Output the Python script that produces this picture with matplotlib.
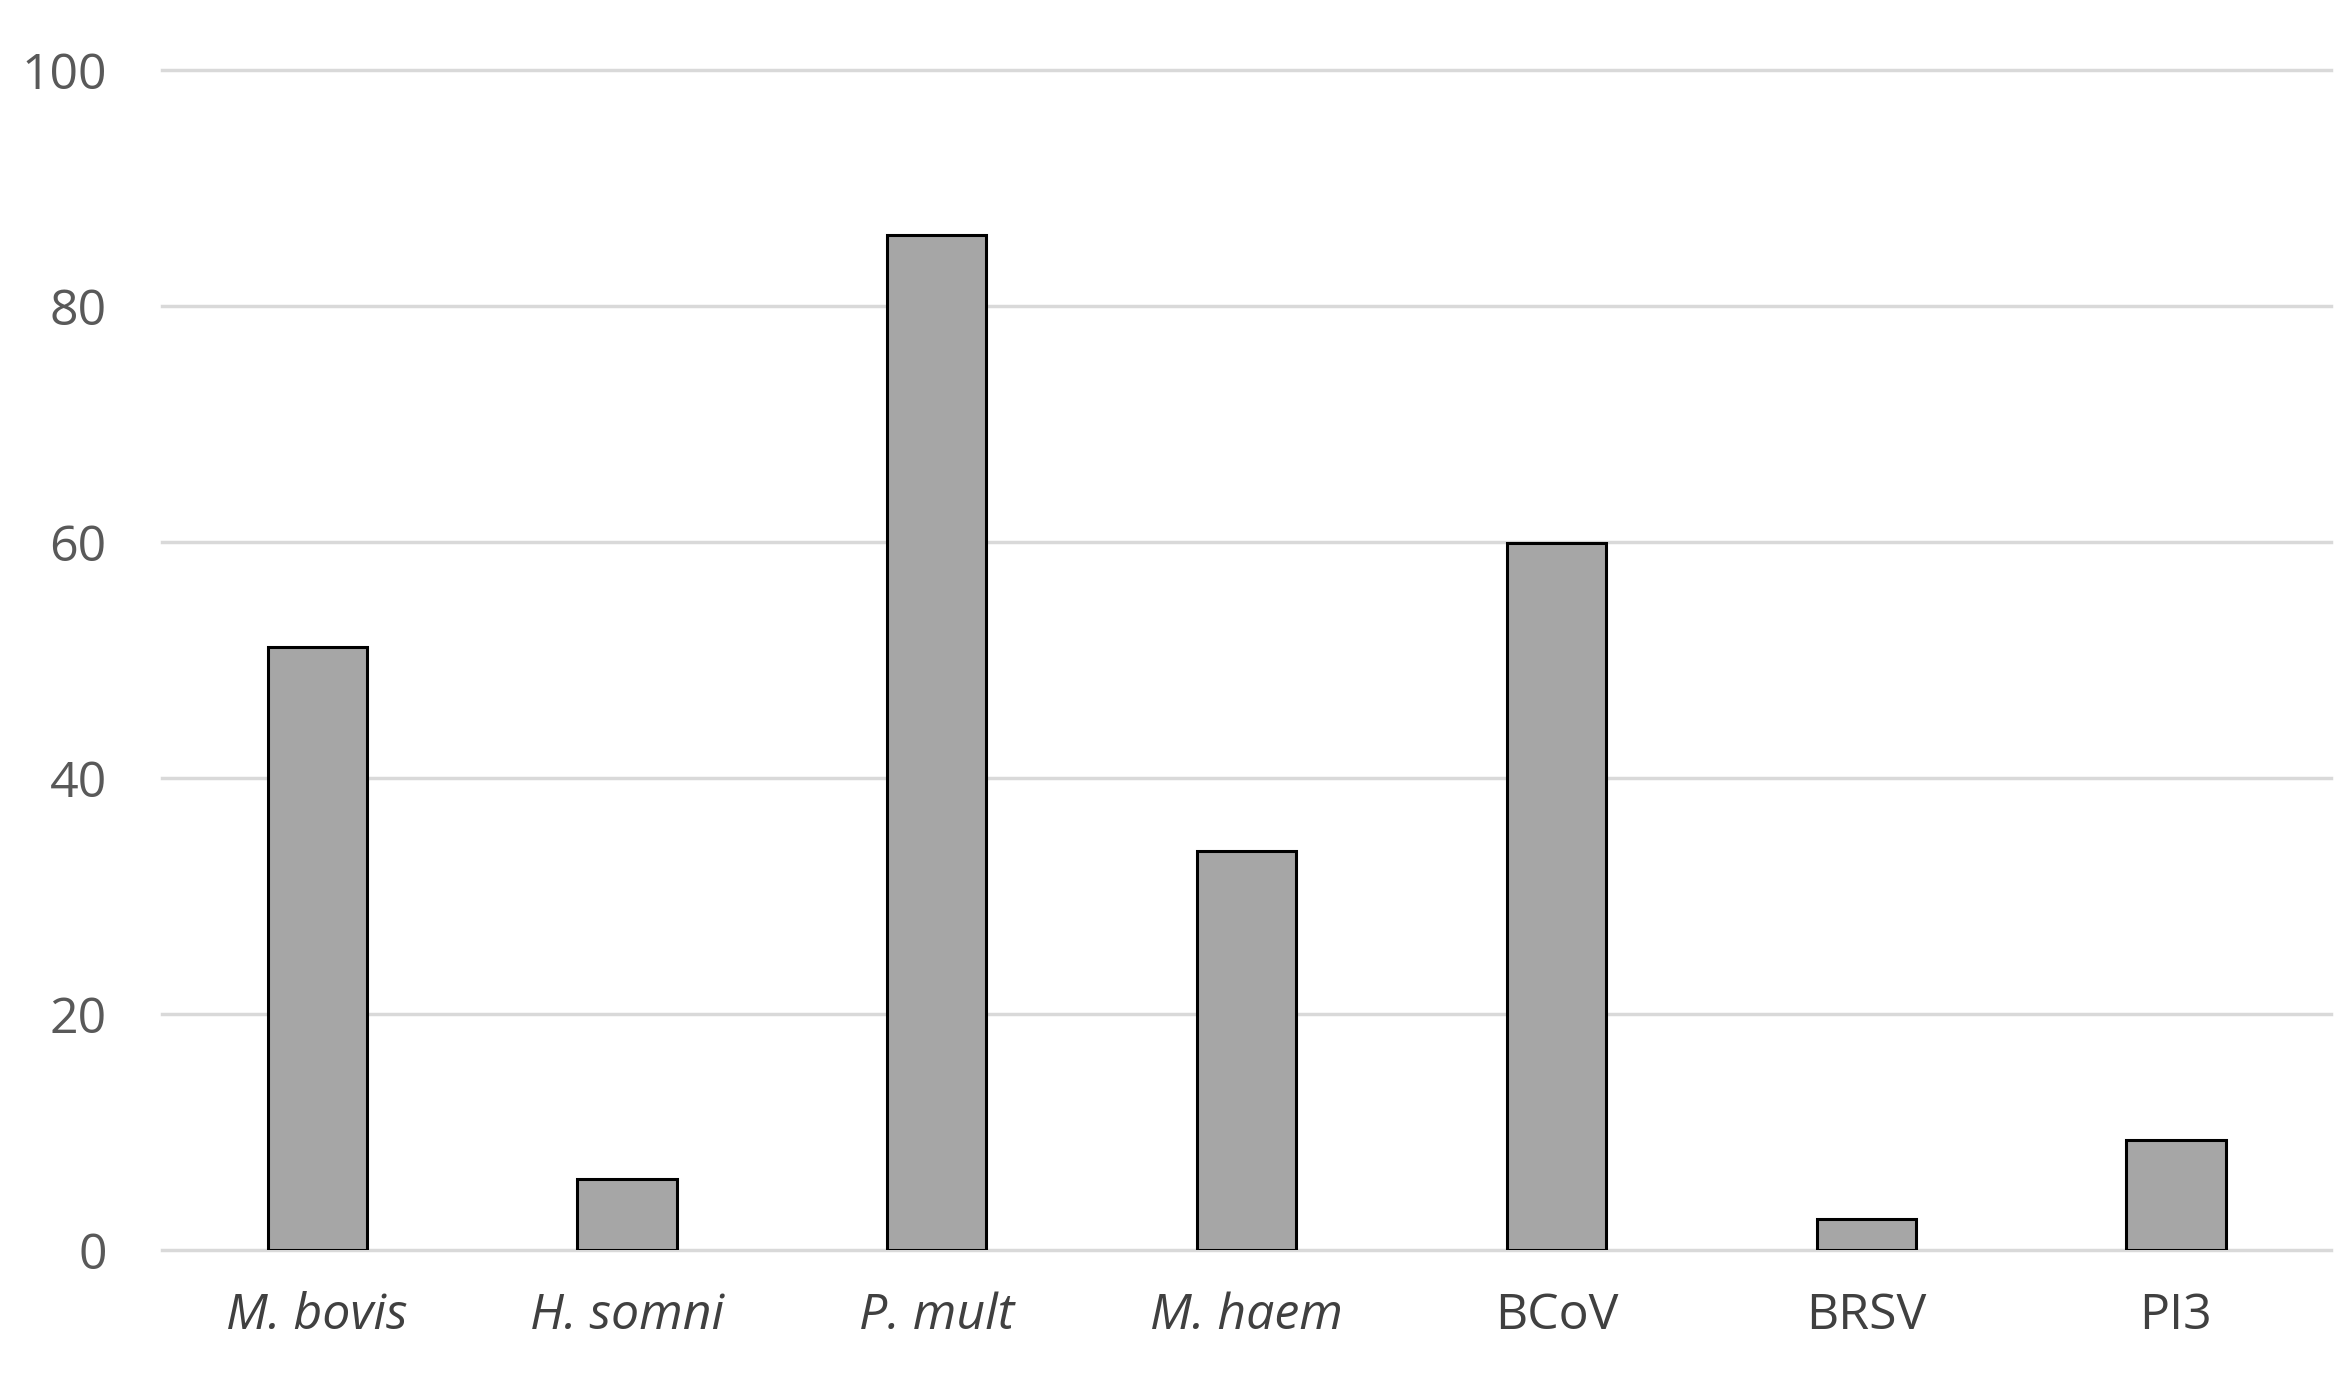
import matplotlib
matplotlib.use("Agg")
import matplotlib.pyplot as plt

categories = ["M. bovis", "H. somni", "P. mult", "M. haem", "BCoV", "BRSV", "PI3"]
italic = [True, True, True, True, False, False, False]
values = [51.1, 6.0, 86.0, 33.8, 59.9, 2.6, 9.3]
yticks = [0, 20, 40, 60, 80, 100]

plt.rcParams['font.family'] = ['Open Sans', 'DejaVu Sans']
fig = plt.figure(figsize=(23.52, 13.75), dpi=100)
ax = fig.add_axes([0.069, 0.091, 0.922, 0.858])
x = range(len(categories))
ax.bar(x, values, width=0.32, color="#a6a6a6", edgecolor="black", linewidth=2.2, zorder=3)
ax.set_ylim(0, 100)
ax.set_xlim(-0.5, len(categories) - 0.5)
ax.set_yticks(yticks)
ax.set_yticklabels([str(v) for v in yticks], fontsize=36, color="#595959")
ax.set_xticks(list(x))
ax.set_xticklabels(categories, fontsize=36, color="#404040")
for lab, it in zip(ax.get_xticklabels(), italic):
    if it:
        lab.set_style("italic")
ax.tick_params(length=0, pad=30)
ax.tick_params(axis='y', pad=40)
ax.grid(axis='y', color="#d9d9d9", linewidth=2.5, zorder=0, clip_on=False)
for gl in ax.get_ygridlines():
    gl.set_clip_on(False)
for s in ax.spines.values():
    s.set_visible(False)
fig.savefig("out.png", dpi=100)
